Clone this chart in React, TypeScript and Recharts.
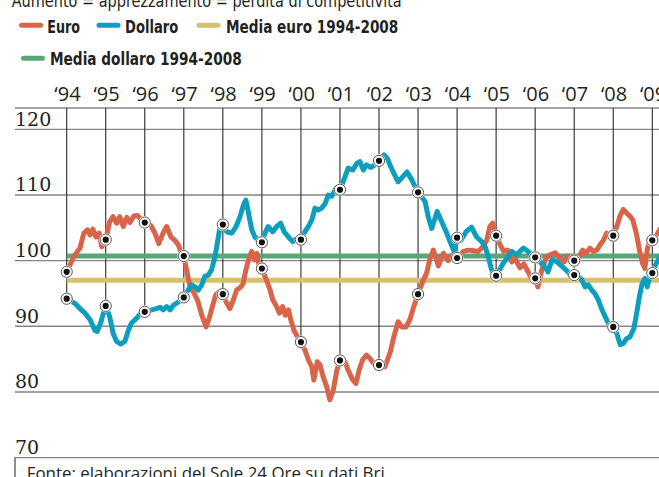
import React from "react";
import {
  ComposedChart,
  Line,
  XAxis,
  YAxis,
  CartesianGrid,
  ReferenceLine,
} from "recharts";

// time (year fraction), index value
const euro: [number, number][] = [
  [1994, 98.3], [1994.08, 99.3], [1994.21, 100.9], [1994.34, 101.9], [1994.44, 104.2], [1994.53, 104.7], [1994.6, 103.9], [1994.67, 104.8], [1994.75, 103.6], [1994.83, 104.2], [1994.9, 102.1],
  [1995, 103.2], [1995.1, 105.9], [1995.19, 106.7], [1995.28, 105.7], [1995.36, 106.7], [1995.45, 105.2], [1995.54, 106.6], [1995.62, 105.8], [1995.72, 106.8], [1995.81, 106.9], [1995.92, 106.2],
  [1996, 105.8], [1996.15, 105.4], [1996.26, 104.2], [1996.36, 102.6], [1996.47, 104.2], [1996.56, 105.2], [1996.67, 103.6], [1996.77, 103.1], [1996.86, 102.4], [1996.92, 101.4],
  [1997, 100.7], [1997.07, 98.6], [1997.16, 96.0], [1997.24, 95.3], [1997.35, 94.0], [1997.46, 91.7], [1997.57, 89.9], [1997.65, 91.2], [1997.74, 93.2], [1997.82, 94.8], [1997.91, 95.3],
  [1998, 94.9], [1998.1, 93.5], [1998.18, 92.7], [1998.27, 94.0], [1998.35, 95.5], [1998.46, 96.0], [1998.52, 96.5], [1998.59, 98.6], [1998.68, 100.6], [1998.74, 101.4], [1998.81, 100.1], [1998.87, 101.1], [1998.93, 99.1],
  [1999, 98.8], [1999.12, 97.0], [1999.21, 95.5], [1999.28, 94.0], [1999.36, 93.2], [1999.45, 92.0], [1999.53, 93.0], [1999.6, 91.7], [1999.68, 92.5], [1999.74, 91.0], [1999.82, 89.4], [1999.93, 88.2],
  [2000, 87.6], [2000.1, 86.4], [2000.19, 84.9], [2000.28, 83.8], [2000.33, 81.8], [2000.42, 84.6], [2000.49, 84.1], [2000.57, 82.3], [2000.66, 80.8], [2000.74, 78.8], [2000.83, 80.3], [2000.92, 83.3],
  [2001, 84.8], [2001.13, 84.6], [2001.21, 83.3], [2001.33, 81.8], [2001.41, 81.3], [2001.49, 83.3], [2001.58, 84.9], [2001.68, 85.6], [2001.77, 85.1], [2001.85, 84.4],
  [2002, 84.1], [2002.15, 83.8], [2002.28, 85.9], [2002.38, 88.4], [2002.49, 90.7], [2002.58, 89.9], [2002.69, 89.9], [2002.79, 91.0], [2002.89, 93.0],
  [2003, 94.9], [2003.12, 96.8], [2003.22, 98.1], [2003.31, 100.4], [2003.39, 101.6], [2003.52, 99.2], [2003.65, 101.1], [2003.77, 100.0], [2003.89, 100.9],
  [2004, 100.4], [2004.16, 101.4], [2004.29, 101.6], [2004.42, 101.5], [2004.54, 101.4], [2004.66, 102.1], [2004.76, 103.1], [2004.84, 105.2], [2004.91, 105.7],
  [2005, 103.8], [2005.09, 102.6], [2005.19, 101.4], [2005.29, 101.6], [2005.4, 99.8], [2005.48, 100.4], [2005.61, 98.9], [2005.71, 99.5], [2005.82, 98.3], [2005.92, 97.0],
  [2006, 97.3], [2006.07, 96.0], [2006.17, 98.6], [2006.28, 100.4], [2006.38, 100.9], [2006.51, 101.2], [2006.63, 100.4], [2006.74, 99.8], [2006.84, 100.7], [2006.92, 99.8],
  [2007, 100.0], [2007.1, 100.4], [2007.22, 101.6], [2007.3, 101.1], [2007.4, 101.9], [2007.49, 101.4], [2007.58, 101.6], [2007.66, 102.4], [2007.75, 103.1], [2007.83, 104.2],
  [2008, 103.8], [2008.09, 105.2], [2008.18, 106.9], [2008.26, 107.8], [2008.35, 107.2], [2008.44, 106.7], [2008.5, 106.2], [2008.59, 104.2], [2008.67, 101.6], [2008.75, 99.6], [2008.81, 98.8], [2008.87, 101.6], [2008.94, 103.4],
  [2009, 103.1], [2009.11, 103.9], [2009.22, 105.0],
];

const dollaro: [number, number][] = [
  [1994, 94.2], [1994.21, 93.5], [1994.34, 92.7], [1994.47, 92.0], [1994.6, 91.0], [1994.72, 89.4], [1994.78, 89.2], [1994.87, 90.5], [1994.94, 92.0],
  [1995, 93.1], [1995.1, 91.5], [1995.19, 88.9], [1995.28, 87.7], [1995.38, 87.3], [1995.49, 87.7], [1995.58, 89.4], [1995.66, 90.5], [1995.75, 91.0], [1995.83, 91.5], [1995.92, 92.2],
  [1996, 92.2], [1996.18, 92.5], [1996.3, 92.7], [1996.39, 92.9], [1996.47, 92.5], [1996.56, 93.0], [1996.65, 92.5], [1996.73, 93.2], [1996.86, 93.7],
  [1997, 94.4], [1997.11, 95.5], [1997.2, 96.3], [1997.29, 96.0], [1997.37, 95.5], [1997.46, 96.3], [1997.54, 97.6], [1997.63, 97.8], [1997.71, 98.6], [1997.8, 100.6], [1997.87, 103.1], [1997.93, 105.2],
  [1998, 105.5], [1998.1, 104.4], [1998.23, 104.2], [1998.34, 105.2], [1998.44, 106.7], [1998.54, 108.7], [1998.59, 109.2], [1998.65, 107.5], [1998.74, 104.7], [1998.82, 103.6], [1998.91, 103.1],
  [1999, 102.8], [1999.08, 104.2], [1999.16, 105.2], [1999.28, 104.4], [1999.38, 105.2], [1999.48, 105.7], [1999.57, 104.4], [1999.68, 103.6], [1999.79, 102.9], [1999.89, 103.4],
  [2000, 103.2], [2000.1, 104.4], [2000.19, 105.2], [2000.28, 106.2], [2000.36, 108.0], [2000.44, 107.7], [2000.53, 108.0], [2000.62, 108.7], [2000.7, 110.0], [2000.79, 109.8], [2000.9, 111.1],
  [2001, 110.8], [2001.13, 112.8], [2001.21, 114.1], [2001.33, 113.8], [2001.43, 114.8], [2001.51, 115.1], [2001.6, 113.8], [2001.68, 114.6], [2001.79, 114.2], [2001.9, 114.6],
  [2002, 115.2], [2002.13, 116.1], [2002.21, 115.6], [2002.3, 114.3], [2002.38, 113.3], [2002.49, 112.0], [2002.61, 112.8], [2002.72, 113.5], [2002.84, 112.3], [2002.92, 111.3],
  [2003, 110.4], [2003.18, 109.0], [2003.26, 106.7], [2003.35, 104.9], [2003.49, 107.5], [2003.61, 105.9], [2003.72, 104.4], [2003.82, 102.9], [2003.93, 101.3],
  [2004, 103.5], [2004.1, 103.1], [2004.23, 104.4], [2004.37, 105.1], [2004.5, 103.6], [2004.63, 102.9], [2004.72, 102.1], [2004.8, 100.6], [2004.87, 98.9], [2004.95, 97.7],
  [2005, 97.7], [2005.09, 98.6], [2005.18, 99.6], [2005.31, 100.6], [2005.4, 101.4], [2005.53, 100.9], [2005.61, 101.4], [2005.7, 101.9], [2005.78, 101.6], [2005.87, 101.1],
  [2006, 100.5], [2006.12, 99.8], [2006.23, 99.2], [2006.33, 98.3], [2006.43, 100.1], [2006.56, 99.8], [2006.71, 99.0], [2006.84, 98.3], [2006.93, 97.4],
  [2007, 97.8], [2007.1, 97.6], [2007.19, 97.1], [2007.28, 96.0], [2007.36, 96.3], [2007.45, 95.5], [2007.53, 95.0], [2007.62, 94.0], [2007.7, 92.7], [2007.79, 91.5], [2007.87, 90.5],
  [2008, 89.9], [2008.09, 88.9], [2008.18, 87.2], [2008.26, 87.4], [2008.34, 88.1], [2008.43, 88.4], [2008.53, 89.7], [2008.6, 92.0], [2008.67, 94.5], [2008.73, 96.3], [2008.81, 97.3], [2008.87, 96.0], [2008.94, 97.6],
  [2009, 98.1], [2009.07, 99.2], [2009.22, 100.9],
];

const mediaEuro = 97.0;
const mediaDollaro = 100.7;

const years = [1994, 1995, 1996, 1997, 1998, 1999, 2000, 2001, 2002, 2003, 2004, 2005, 2006, 2007, 2008, 2009];
const yearLabels = ["‘94", "‘95", "‘96", "‘97", "‘98", "‘99", "‘00", "‘01", "‘02", "‘03", "‘04", "‘05", "‘06", "‘07", "‘08", "‘09"];
const yTicks = [70, 80, 90, 100, 110, 120];

const X_MIN = 1992.676;
const X_MAX = 2009.172;
const Y_TOP = 123.25;

const ORANGE = "#d9644a";
const BLUE = "#0b9ebe";
const GOLD = "#d5c06b";
const GREEN = "#5ba677";
const INK = "#231f20";

const toRows = (pts: [number, number][]) => pts.map(([t, v]) => ({ t, v }));
const euroData = toRows(euro);
const dollaroData = toRows(dollaro);
const euroMarks = euroData.filter((d) => Number.isInteger(d.t));
const dollaroMarks = dollaroData.filter((d) => Number.isInteger(d.t));

const renderMarker = (props: any) => {
  const { cx, cy, index } = props;
  if (cx == null || cy == null) return <g key={index} />;
  return (
    <g key={index}>
      <circle cx={cx} cy={cy} r={6.5} fill="#fff" />
      <circle cx={cx} cy={cy} r={5.6} fill="#fff" stroke="#555" strokeWidth={1} />
      <circle cx={cx} cy={cy} r={3.1} fill="#111" />
    </g>
  );
};

const YearTick = (props: any) => {
  const { x, payload } = props;
  const i = years.indexOf(payload.value);
  return (
    <text x={x + 0.8} y={100.7} textAnchor="middle" fontFamily="'Open Sans', sans-serif" fontSize={20} fill={INK}>
      {yearLabels[i]}
    </text>
  );
};

const ValueTick = (props: any) => {
  const { y, payload } = props;
  return (
    <text x={15} y={y - 3.5} textAnchor="start" fontFamily="'DejaVu Serif', serif" fontSize={19} fill={INK}>
      {payload.value}
    </text>
  );
};

const legendFont = "'Liberation Sans Narrow', 'DejaVu Sans Condensed', sans-serif";

function Overlay() {
  const sw = (x1: number, x2: number, y: number, c: string) => (
    <line x1={x1} x2={x2} y1={y} y2={y} stroke={c} strokeWidth={5} strokeLinecap="round" />
  );
  const lab = (x: number, y: number, len: number, s: string) => (
    <text x={x} y={y} fontFamily={legendFont} fontWeight="bold" fontSize={18} fill={INK} textLength={len} lengthAdjust="spacingAndGlyphs">
      {s}
    </text>
  );
  return (
    <svg width={659} height={477} style={{ position: "absolute", left: 0, top: 0, pointerEvents: "none" }}>
      <text x={11.7} y={6.5} fontFamily={legendFont} fontSize={18} fill={INK} textLength={390} lengthAdjust="spacingAndGlyphs">
        Aumento = apprezzamento = perdita di competitività
      </text>
      {sw(21.5, 40.5, 25.2, ORANGE)}
      {lab(47.3, 33.3, 32.7, "Euro")}
      {sw(99, 118, 25.2, BLUE)}
      {lab(125, 33.3, 53.3, "Dollaro")}
      {sw(199, 218, 25.2, GOLD)}
      {lab(226, 33.3, 172.3, "Media euro 1994-2008")}
      {sw(23.5, 42.5, 58.3, GREEN)}
      {lab(50, 65, 191.7, "Media dollaro 1994-2008")}
      <line x1={15} x2={15} y1={457.6} y2={477} stroke="#444" strokeWidth={1.2} />
      <text x={26.7} y={479} fontFamily="'Open Sans', sans-serif" fontSize={17} fill={INK} textLength={358} lengthAdjust="spacingAndGlyphs">
        Fonte: elaborazioni del Sole 24 Ore su dati Bri
      </text>
    </svg>
  );
}

export default function App() {
  return (
    <div style={{ position: "absolute", left: 0, top: 0, width: 659, height: 477, overflow: "hidden", background: "#fff" }}>
      <ComposedChart width={659} height={477} margin={{ top: 78, right: 0, bottom: 19.4, left: 15 }}>
        <CartesianGrid vertical={false} stroke="#858585" strokeWidth={1.4} />
        <XAxis
          dataKey="t"
          type="number"
          orientation="top"
          domain={[X_MIN, X_MAX]}
          allowDataOverflow
          ticks={years}
          interval={0}
          height={30}
          axisLine={false}
          tickLine={false}
          tick={<YearTick />}
        />
        <YAxis
          dataKey="v"
          type="number"
          domain={[70, Y_TOP]}
          allowDataOverflow
          ticks={yTicks}
          interval={0}
          mirror
          width={50}
          axisLine={false}
          tickLine={false}
          tick={<ValueTick />}
        />
        {years.map((yr, i) => (
          <ReferenceLine
            key={yr}
            segment={[
              { x: yr, y: Y_TOP },
              { x: yr, y: Math.min(euroMarks[i].v, dollaroMarks[i].v) },
            ]}
            stroke="#2a2a2a"
            strokeWidth={1.1}
            ifOverflow="visible"
          />
        ))}
        <ReferenceLine segment={[{ x: 1994, y: mediaEuro }, { x: X_MAX, y: mediaEuro }]} stroke={GOLD} strokeWidth={5} ifOverflow="visible" />
        <ReferenceLine segment={[{ x: 1994, y: mediaDollaro }, { x: X_MAX, y: mediaDollaro }]} stroke={GREEN} strokeWidth={5} ifOverflow="visible" />
        <Line data={euroData} dataKey="v" type="linear" stroke={ORANGE} strokeWidth={5} strokeLinejoin="round" strokeLinecap="round" dot={false} activeDot={false} isAnimationActive={false} />
        <Line data={dollaroData} dataKey="v" type="linear" stroke={BLUE} strokeWidth={5} strokeLinejoin="round" strokeLinecap="round" dot={false} activeDot={false} isAnimationActive={false} />
        <Line data={euroMarks} dataKey="v" stroke="none" dot={renderMarker} activeDot={false} isAnimationActive={false} />
        <Line data={dollaroMarks} dataKey="v" stroke="none" dot={renderMarker} activeDot={false} isAnimationActive={false} />
      </ComposedChart>
      <Overlay />
    </div>
  );
}
